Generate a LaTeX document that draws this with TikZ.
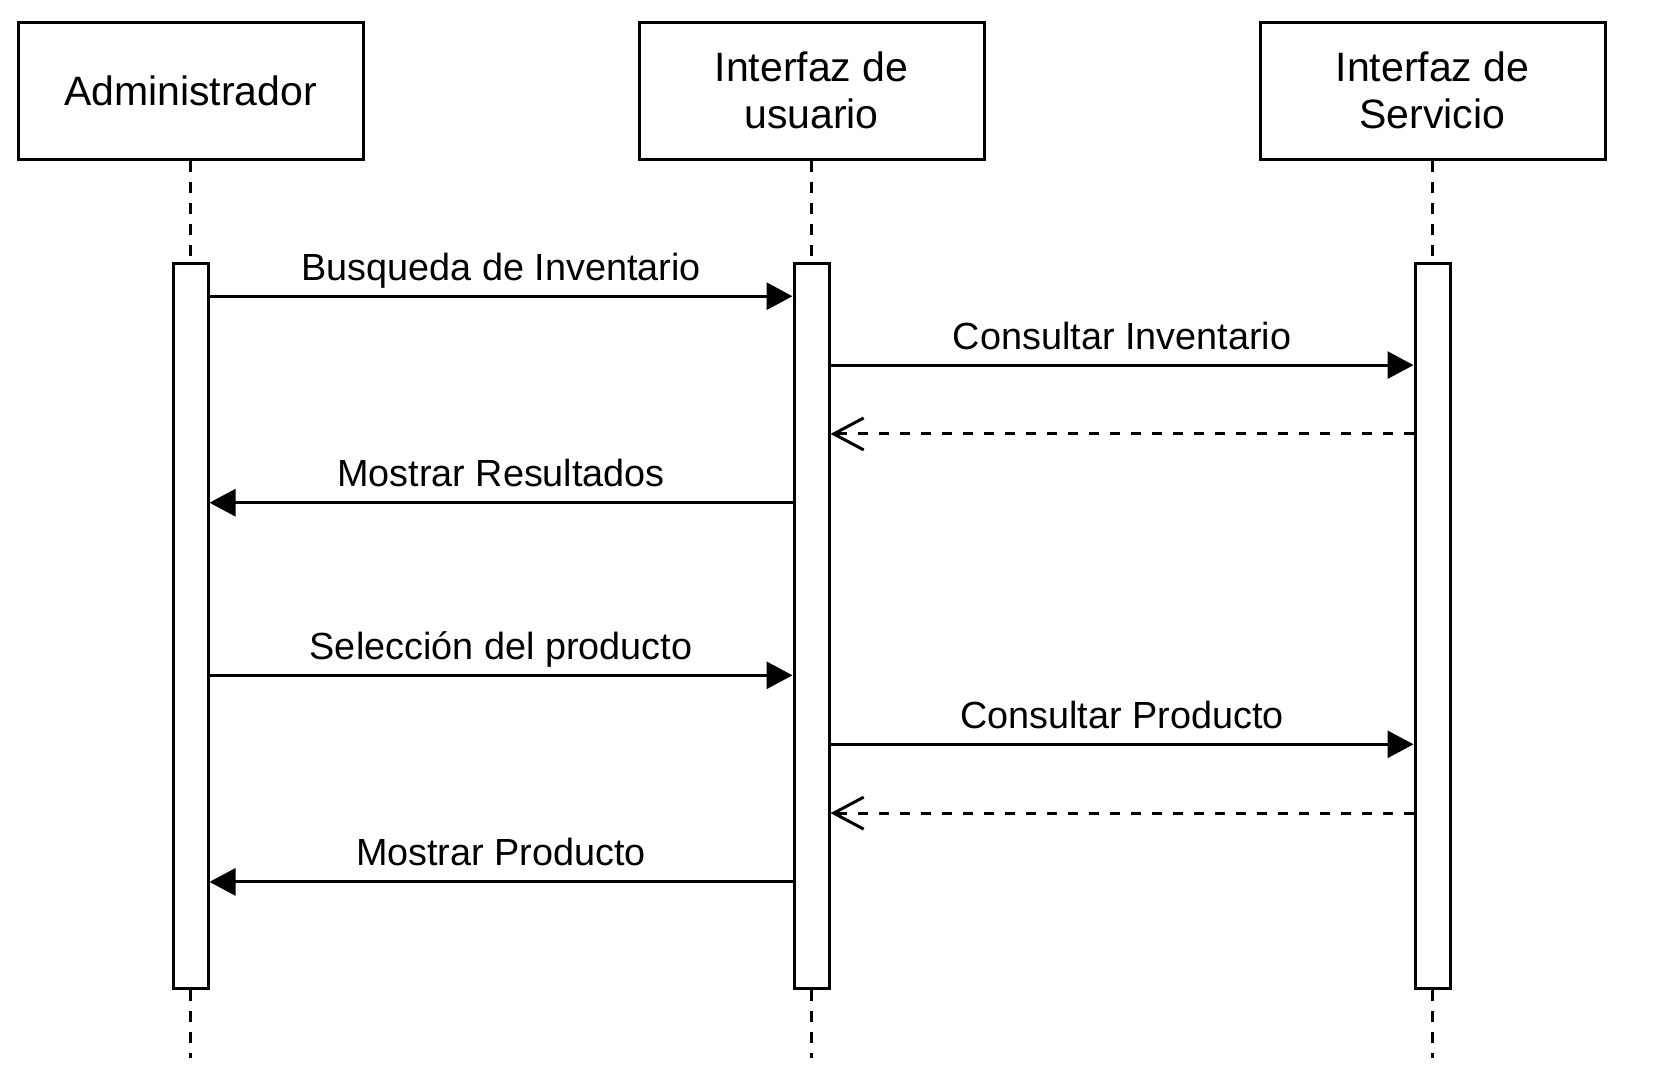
\documentclass[tikz,border=0pt]{standalone}
\usepackage{fontspec}
\setmainfont{Liberation Sans}
\usetikzlibrary{arrows.meta}

\tikzset{
  actor/.style={draw,line width=1.5pt,minimum width=172.5pt,minimum height=68.5pt,inner sep=0pt,align=center,font=\fontsize{20.5}{23.8}\selectfont},
  activation/.style={draw,fill=white,line width=1.5pt,minimum width=17.5pt,minimum height=362.5pt,inner sep=0pt},
  lifeline/.style={line width=1.5pt,dash pattern=on 5.5pt off 5pt},
  msg/.style={anchor=base,yshift=8pt,font=\fontsize{18.9}{22}\selectfont},
  call/.style={line width=1.5pt,-{Triangle[length=13pt,width=13.5pt]}},
  reply/.style={line width=1.5pt,dash pattern=on 5pt off 5.5pt,-{Straight Barb[length=15pt,width=16pt]}}
}

\begin{document}
\begin{tikzpicture}[node distance=310.5pt]
\useasboundingbox (0,0) rectangle (830.5pt,-542pt);

\node[actor] (adm) at (95.25pt,-45.25pt) {Administrador};
\node[actor] (ui) [right of=adm] {Interfaz de\\usuario};
\node[actor] (srv) [right of=ui] {Interfaz de\\Servicio};

\node[activation,node distance=267.5pt] (admact) [below of=adm] {};
\node[activation,node distance=267.5pt] (uiact) [below of=ui] {};
\node[activation,node distance=267.5pt] (srvact) [below of=srv] {};

\coordinate (admend) at ([yshift=-34pt]admact.south);
\coordinate (uiend) at ([yshift=-34pt]uiact.south);
\coordinate (srvend) at ([yshift=-34pt]srvact.south);

% lifelines
\draw[lifeline] (adm) -- (admact) (admact) -- (admend);
\draw[lifeline] (ui) -- (uiact) (uiact) -- (uiend);
\draw[lifeline] (srv) -- (srvact) (srvact) -- (srvend);

% messages
\path[call] ([yshift=-17.35pt]admact.north east) edge node[msg] {Busqueda de Inventario} ([yshift=-17.35pt]uiact.north west)
([yshift=-51.8pt]uiact.north east) edge node[msg] {Consultar Inventario} ([yshift=-51.8pt]srvact.north west)
([yshift=-120.6pt]uiact.north west) edge node[msg] {Mostrar Resultados} ([yshift=-120.6pt]admact.north east)
([yshift=-206.9pt]admact.north east) edge node[msg] {Selección del producto} ([yshift=-206.9pt]uiact.north west)
([yshift=-241.4pt]uiact.north east) edge node[msg] {Consultar Producto} ([yshift=-241.4pt]srvact.north west)
([yshift=-310.2pt]uiact.north west) edge node[msg] {Mostrar Producto} ([yshift=-310.2pt]admact.north east);
\path[reply] ([yshift=-86.2pt]srvact.north west) edge ([yshift=-86.2pt]uiact.north east)
([yshift=-275.8pt]srvact.north west) edge ([yshift=-275.8pt]uiact.north east);
\end{tikzpicture}
\end{document}
